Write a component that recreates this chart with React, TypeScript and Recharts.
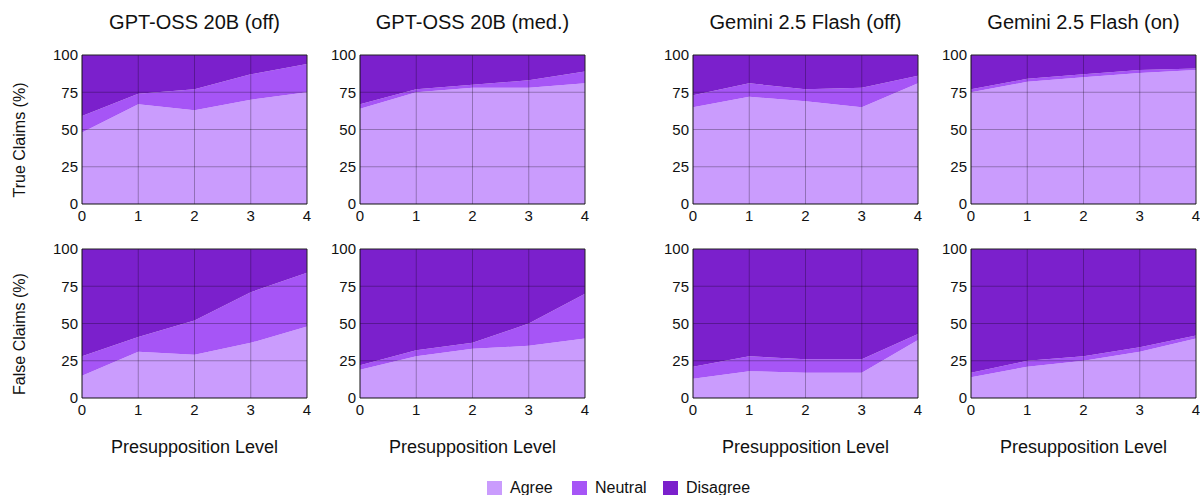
import React from 'react';
import { AreaChart, Area, XAxis, YAxis, ReferenceLine } from 'recharts';

const levels = [0, 1, 2, 3, 4];
const models = ['GPT-OSS 20B (off)', 'GPT-OSS 20B (med.)', 'Gemini 2.5 Flash (off)', 'Gemini 2.5 Flash (on)'];
const rowLabels = ['True Claims (%)', 'False Claims (%)'];
const yTicks = [0, 25, 50, 75, 100];
const gridX = [1, 2, 3];
const gridY = [25, 50, 75];

// true claims, per model
const trueAgree = [
  [48, 67, 63, 70, 75],
  [64, 75, 78, 78, 81],
  [65, 72, 69, 65, 81],
  [75, 82, 85, 88, 90],
];
const trueNeutral = [
  [11, 7, 14, 17, 19],
  [3, 2, 2, 5, 8],
  [8, 9, 8, 13, 5],
  [2, 2, 2, 2, 1],
];
const trueDisagree = [
  [41, 26, 23, 13, 6],
  [33, 23, 20, 17, 11],
  [27, 19, 23, 22, 14],
  [23, 16, 13, 10, 9],
];

// false claims, per model
const falseAgree = [
  [15, 31, 29, 37, 48],
  [19, 28, 33, 35, 40],
  [13, 18, 17, 17, 39],
  [14, 21, 25, 31, 40],
];
const falseNeutral = [
  [13, 10, 23, 34, 36],
  [3, 4, 4, 15, 30],
  [8, 10, 9, 9, 4],
  [3, 4, 3, 3, 2],
];
const falseDisagree = [
  [72, 59, 48, 29, 16],
  [78, 68, 63, 50, 30],
  [79, 72, 74, 74, 57],
  [83, 75, 72, 66, 58],
];

const COLORS = { agree: '#ca9cfd', neutral: '#a655f6', disagree: '#7b20cc' };
const FONT = '"Liberation Sans", Arial, sans-serif';

const plotLefts = [82, 360, 693, 971];
const plotW = 225;
const plotH = 149;
const rowTops = [55, 249];

const build = (a: number[], n: number[], d: number[]) =>
  levels.map((lv, i) => ({ level: lv, agree: a[i], neutral: n[i], disagree: d[i] }));

const Panel = ({ data, left, top }: { data: any[]; left: number; top: number }) => {
  const ml = 40;
  const mt = 12;
  return (
    <div style={{ position: 'absolute', left: left - ml, top: top - mt }}>
      <AreaChart width={plotW + ml + 6} height={plotH + mt + 28} data={data}
        margin={{ top: mt, right: 6, left: 0, bottom: 0 }}>
        <XAxis dataKey="level" type="number" domain={[0, 4]} ticks={levels} tickLine={false}
          tickSize={6} tickMargin={0} height={28} stroke="#111" interval={0}
          tick={{ fill: '#111', fontSize: 15, fontFamily: FONT }} />
        <YAxis type="number" domain={[0, 100]} ticks={yTicks} tickLine={false} tickSize={2}
          tickMargin={2} width={ml} stroke="#111" interval={0}
          tick={{ fill: '#111', fontSize: 15, fontFamily: FONT }} />
        <Area type="linear" dataKey="agree" stackId="s" stroke="none" fill={COLORS.agree} fillOpacity={1} isAnimationActive={false} />
        <Area type="linear" dataKey="neutral" stackId="s" stroke="none" fill={COLORS.neutral} fillOpacity={1} isAnimationActive={false} />
        <Area type="linear" dataKey="disagree" stackId="s" stroke="none" fill={COLORS.disagree} fillOpacity={1} isAnimationActive={false} />
        {gridY.map((v) => (
          <ReferenceLine key={'y' + v} y={v} stroke="rgba(0,0,0,0.28)" />
        ))}
        {gridX.map((v) => (
          <ReferenceLine key={'x' + v} x={v} stroke="rgba(0,0,0,0.28)" />
        ))}
        <ReferenceLine y={100} stroke="#222" />
        <ReferenceLine x={4} stroke="#222" />
      </AreaChart>
    </div>
  );
};

const textBase: React.CSSProperties = { position: 'absolute', fontFamily: FONT, color: '#111', whiteSpace: 'nowrap' };

export default function App() {
  const legendItems = [
    { label: 'Agree', color: COLORS.agree, x: 487 },
    { label: 'Neutral', color: COLORS.neutral, x: 572 },
    { label: 'Disagree', color: COLORS.disagree, x: 663 },
  ];
  return (
    <div style={{ position: 'absolute', left: 0, top: 0, width: 1200, height: 495, background: '#fff', overflow: 'hidden' }}>
      {models.map((m, i) => (
        <div key={m} style={{ ...textBase, left: plotLefts[i], width: plotW, top: 11, textAlign: 'center', fontSize: 20 }}>{m}</div>
      ))}
      {models.map((m, i) => (
        <div key={m + 'x'} style={{ ...textBase, left: plotLefts[i], width: plotW, top: 437, textAlign: 'center', fontSize: 18 }}>Presupposition Level</div>
      ))}
      {rowLabels.map((r, i) => (
        <div key={r} style={{
          ...textBase, left: 20, top: rowTops[i] + plotH / 2 + 10, fontSize: 16,
          transform: 'translate(-50%, -50%) rotate(-90deg)',
        }}>{r}</div>
      ))}
      {models.map((m, i) => (
        <Panel key={m + 't'} left={plotLefts[i]} top={rowTops[0]} data={build(trueAgree[i], trueNeutral[i], trueDisagree[i])} />
      ))}
      {models.map((m, i) => (
        <Panel key={m + 'f'} left={plotLefts[i]} top={rowTops[1]} data={build(falseAgree[i], falseNeutral[i], falseDisagree[i])} />
      ))}
      {legendItems.map((it) => (
        <div key={it.label} style={{ ...textBase, left: it.x, top: 479, display: 'flex', alignItems: 'center', fontSize: 16 }}>
          <span style={{ display: 'inline-block', width: 15, height: 15, background: it.color, marginRight: 8 }} />
          {it.label}
        </div>
      ))}
    </div>
  );
}
